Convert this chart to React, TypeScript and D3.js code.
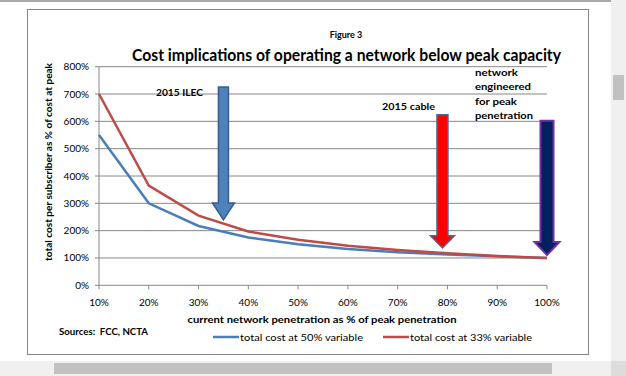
import React from "react";
import * as d3 from "d3";

const xCats = [10, 20, 30, 40, 50, 60, 70, 80, 90, 100];
const blueVals = [550, 300, 217, 175, 150, 133, 121, 113, 106, 100];
const redVals = [700, 365, 255, 197, 167, 145, 129, 117, 107, 100];
const yTicks = [0, 100, 200, 300, 400, 500, 600, 700, 800];
const arrowX = [35, 79, 100];
const arrowTop = [726, 624, 602];
const arrowTip = [239, 137, 111];
const arrowFill = ["#4f81bd", "#ff0000", "#002060"];
const arrowStroke = ["#385d8a", "#4f6a8a", "#7030a0"];
const arrowShaft = [10, 11, 13];
const arrowHeadW = [22, 24, 25];
const arrowHeadL = [17, 12, 13];
const peakLines = ["network", "engineered", "for peak", "penetration"];
const peakWidths = [43, 56, 42, 58];

const FONT = "Lato, 'Open Sans', sans-serif";

export default function App() {
  const x = d3.scaleLinear().domain([10, 100]).range([99, 547]);
  const y = d3.scaleLinear().domain([0, 800]).range([285.3, 66.7]);
  const line = d3
    .line<number>()
    .x((_, i) => x(xCats[i]))
    .y((d) => y(d));

  const arrowPath = (i: number) => {
    const cx = x(arrowX[i]);
    const top = y(arrowTop[i]);
    const tip = y(arrowTip[i]);
    const sw = arrowShaft[i] / 2;
    const hw = arrowHeadW[i] / 2;
    const hb = tip - arrowHeadL[i];
    return `M${cx - sw},${top}L${cx + sw},${top}L${cx + sw},${hb}L${cx + hw},${hb}L${cx},${tip}L${cx - hw},${hb}L${cx - sw},${hb}Z`;
  };

  return (
    <svg
      width={626}
      height={376}
      style={{ position: "absolute", left: 0, top: 0 }}
      fontFamily={FONT}
    >
      <rect x={0} y={0} width={626} height={376} fill="#ffffff" />
      {/* page chrome */}
      <rect x={0} y={0} width={611} height={2} fill="#a8a8a8" />
      <rect x={611} y={0} width={15} height={376} fill="#f0f0f0" />
      <rect x={613} y={75} width={11} height={25} fill="#c1c1c1" />
      <rect x={0} y={361} width={611} height={15} fill="#f0f0f0" />
      <rect x={611} y={361} width={15} height={15} fill="#dcdcdc" />
      <rect x={54} y={363} width={498} height={11} fill="#c1c1c1" />
      {/* chart box */}
      <rect x={27.5} y={9.5} width={561} height={345} fill="#fff" stroke="#888" strokeWidth={1} />

      <text x={346} y={37.5} textAnchor="middle" fontSize={9} fontWeight="bold">
        Figure 3
      </text>
      <text
        x={132}
        y={61}
        fontSize={17}
        fontWeight="bold"
        textLength={429}
        lengthAdjust="spacingAndGlyphs"
      >
        Cost implications of operating a network below peak capacity
      </text>

      {/* gridlines */}
      {yTicks.map((t) =>
        t > 0 ? (
          <line key={t} x1={99} x2={547} y1={y(t)} y2={y(t)} stroke="#888" strokeWidth={1} />
        ) : null
      )}
      {/* axes */}
      <line x1={99} x2={99} y1={y(800)} y2={y(0)} stroke="#888" />
      <line x1={99} x2={547} y1={y(0)} y2={y(0)} stroke="#888" />
      {yTicks.map((t) => (
        <g key={"yt" + t}>
          <line x1={95} x2={99} y1={y(t)} y2={y(t)} stroke="#888" />
          <text x={89} y={y(t) + 3.5} textAnchor="end" fontSize={10}>
            {t}%
          </text>
        </g>
      ))}
      {xCats.map((c) => (
        <g key={"xt" + c}>
          <line x1={x(c)} x2={x(c)} y1={y(0)} y2={y(0) + 4} stroke="#888" />
          <text x={x(c)} y={305.5} textAnchor="middle" fontSize={10}>
            {c}%
          </text>
        </g>
      ))}

      <text x={322} y={322.5} textAnchor="middle" fontSize={10} fontWeight="bold" textLength={269} lengthAdjust="spacingAndGlyphs">
        current network penetration as % of peak penetration
      </text>
      <text
        transform={`translate(51.5,162) rotate(-90)`}
        textAnchor="middle"
        fontSize={9.5}
        fontWeight="bold"
        textLength={198}
        lengthAdjust="spacingAndGlyphs"
      >
        total cost per subscriber as % of cost at peak
      </text>

      {/* series */}
      <path d={line(blueVals) || ""} fill="none" stroke="#4a7ebb" strokeWidth={2.5} />
      <path d={line(redVals) || ""} fill="none" stroke="#be4b48" strokeWidth={2.5} />

      {/* arrows */}
      {arrowX.map((_, i) => (
        <path
          key={"a" + i}
          d={arrowPath(i)}
          fill={arrowFill[i]}
          stroke={arrowStroke[i]}
          strokeWidth={i === 2 ? 2 : 1.5}
        />
      ))}

      <text x={156} y={96} fontSize={9.5} fontWeight="bold" textLength={47} lengthAdjust="spacingAndGlyphs">
        2015 ILEC
      </text>
      <text x={382} y={110} fontSize={9.5} fontWeight="bold" textLength={53} lengthAdjust="spacingAndGlyphs">
        2015 cable
      </text>
      {peakLines.map((s, i) => (
        <text
          key={s}
          x={475}
          y={75.5 + i * 14.5}
          fontSize={10}
          fontWeight="bold"
          textLength={peakWidths[i]}
          lengthAdjust="spacingAndGlyphs"
        >
          {s}
        </text>
      ))}

      <text x={59} y={335} fontSize={9.5} fontWeight="bold" textLength={89} lengthAdjust="spacingAndGlyphs" style={{ whiteSpace: "pre" }}>
        {"Sources:  FCC, NCTA"}
      </text>

      {/* legend */}
      <line x1={213} x2={239} y1={337} y2={337} stroke="#4a7ebb" strokeWidth={2.5} />
      <text x={240} y={340.5} fontSize={10} textLength={123} lengthAdjust="spacingAndGlyphs">
        total cost at 50% variable
      </text>
      <line x1={383} x2={409} y1={337} y2={337} stroke="#be4b48" strokeWidth={2.5} />
      <text x={410} y={340.5} fontSize={10} textLength={122} lengthAdjust="spacingAndGlyphs">
        total cost at 33% variable
      </text>
    </svg>
  );
}
